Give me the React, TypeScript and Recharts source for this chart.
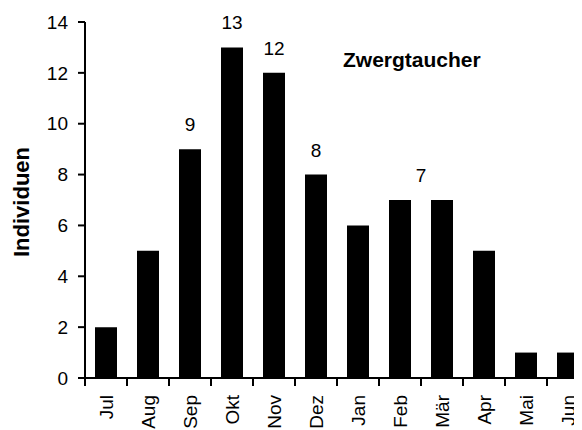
import { BarChart, Bar, XAxis, YAxis, LabelList, Customized } from "recharts";

const months = ["Jul", "Aug", "Sep", "Okt", "Nov", "Dez", "Jan", "Feb", "Mär", "Apr", "Mai", "Jun"];
const individuals = [2, 5, 9, 13, 12, 8, 6, 7, 7, 5, 1, 1];
// printed numbers above bars ("" = none); the 7 sits between Feb and Mär
const barLabels = ["", "", "9", "13", "12", "8", "", "7", "", "", "", ""];
const sharedWithNext = ["Feb"];
const yTicks = [0, 2, 4, 6, 8, 10, 12, 14];

const data = months.map((m, i) => ({ month: m, value: individuals[i], label: barLabels[i] }));

const FONT = "'Liberation Sans', Arial, Helvetica, sans-serif";
const W = 590;
const H = 422;
const LEFT = 77;
const RIGHT = 9;
const STEP = (W - LEFT - RIGHT) / months.length;

function XTick(props: any) {
  const { x, y, payload } = props;
  const half = payload?.offset || STEP / 2;
  return (
    <g>
      <line x1={x - half} x2={x - half} y1={y} y2={y + 8} stroke="#000" strokeWidth={2} />
      <text
        transform={`translate(${x},${y + 17}) rotate(-90)`}
        textAnchor="end"
        dy="0.35em"
        fontSize={19}
        fontFamily={FONT}
        fill="#000"
      >
        {payload.value}
      </text>
    </g>
  );
}

function BarValue(props: any) {
  const { x, y, width, index } = props;
  const text = barLabels[index];
  if (!text) return null;
  const shift = sharedWithNext.includes(months[index]) ? STEP / 2 : 0;
  return (
    <text x={x + width / 2 + shift} y={y - 18} textAnchor="middle" fontSize={19} fontFamily={FONT} fill="#000">
      {text}
    </text>
  );
}

function Title() {
  return (
    <text x={335} y={59} fontSize={21} fontWeight="bold" fontFamily={FONT} fill="#000">
      Zwergtaucher
    </text>
  );
}

export default function App() {
  return (
    <div style={{ width: 574, height: H, overflow: "hidden" }}>
      <BarChart width={W} height={H} data={data} margin={{ top: 14, right: RIGHT, bottom: 0, left: 0 }} barCategoryGap={0}>
        <XAxis
          dataKey="month"
          height={52}
          tickLine={false}
          tickSize={0}
          tickMargin={0}
          axisLine={{ stroke: "#000", strokeWidth: 2 }}
          tick={<XTick />}
          interval={0}
        />
        <YAxis
          width={LEFT}
          domain={[0, 14]}
          ticks={yTicks}
          tickSize={7}
          tickMargin={10}
          axisLine={{ stroke: "#000", strokeWidth: 2 }}
          tickLine={{ stroke: "#000", strokeWidth: 2 }}
          tick={{ fill: "#000", fontSize: 19, fontFamily: FONT }}
          label={{
            content: (p: any) => {
              const vb = p.viewBox;
              const cx = 13;
              const cy = vb.y + vb.height / 2 + 2;
              return (
                <text
                  transform={`translate(${cx},${cy}) rotate(-90)`}
                  textAnchor="middle"
                  dy="0.35em"
                  fontSize={22}
                  fontWeight="bold"
                  fontFamily={FONT}
                  fill="#000"
                >
                  Individuen
                </text>
              );
            },
          }}
        />
        <Bar dataKey="value" fill="#000" barSize={22} isAnimationActive={false}>
          <LabelList dataKey="label" content={<BarValue />} />
        </Bar>
        <Customized component={<Title />} />
      </BarChart>
    </div>
  );
}
